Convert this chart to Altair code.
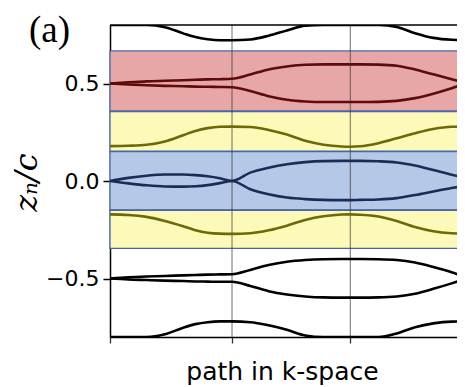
import altair as alt
import pandas as pd

# path coordinate along k-space (segment ends at kpoints)
k = [0.0, 0.15, 0.3, 0.45, 0.6, 0.7, 0.8, 0.9, 1.0, 1.15, 1.3, 1.45, 1.6, 1.75,
     1.9, 1.97, 2.05, 2.2, 2.35, 2.5, 2.65, 2.8, 2.91]
kpoints = [0.0, 1.0, 1.97]
grid_k = [1.0, 1.97]

top_black = [0.800, 0.800, 0.800, 0.789, 0.757, 0.738, 0.727, 0.722, 0.722, 0.726, 0.745, 0.772,
             0.797, 0.800, 0.800, 0.800, 0.800, 0.800, 0.790, 0.758, 0.734, 0.724, 0.722]
red_up = [0.500, 0.506, 0.511, 0.514, 0.517, 0.519, 0.521, 0.522, 0.524, 0.546, 0.572, 0.587,
          0.596, 0.598, 0.598, 0.598, 0.598, 0.597, 0.591, 0.572, 0.547, 0.522, 0.503]
red_lo = [0.500, 0.495, 0.491, 0.488, 0.486, 0.484, 0.483, 0.482, 0.481, 0.461, 0.435, 0.417,
          0.408, 0.405, 0.405, 0.405, 0.405, 0.406, 0.411, 0.425, 0.448, 0.476, 0.500]
yel_up = [0.179, 0.181, 0.186, 0.203, 0.235, 0.257, 0.271, 0.278, 0.279, 0.277, 0.262, 0.238,
          0.206, 0.186, 0.177, 0.176, 0.178, 0.194, 0.219, 0.245, 0.267, 0.278, 0.279]
blue_up = [0.000, 0.016, 0.027, 0.033, 0.033, 0.030, 0.024, 0.014, 0.000, 0.043, 0.068, 0.086,
           0.097, 0.102, 0.103, 0.103, 0.103, 0.101, 0.095, 0.079, 0.056, 0.032, 0.016]
blue_lo = [0.000, -0.012, -0.022, -0.028, -0.029, -0.027, -0.021, -0.011, 0.000, -0.042, -0.068,
           -0.085, -0.093, -0.097, -0.098, -0.098, -0.097, -0.095, -0.088, -0.072, -0.054, -0.036, -0.024]
yel_lo = [-0.171, -0.174, -0.184, -0.205, -0.232, -0.252, -0.265, -0.270, -0.271, -0.268, -0.253,
          -0.229, -0.200, -0.181, -0.172, -0.171, -0.173, -0.182, -0.205, -0.236, -0.258, -0.268, -0.270]
blk_up = [-0.500, -0.494, -0.490, -0.487, -0.484, -0.482, -0.480, -0.479, -0.478, -0.456, -0.431,
          -0.414, -0.405, -0.401, -0.400, -0.400, -0.400, -0.401, -0.405, -0.418, -0.441, -0.468, -0.492]
blk_lo = [-0.500, -0.505, -0.508, -0.511, -0.513, -0.515, -0.516, -0.517, -0.517, -0.538, -0.565,
          -0.582, -0.592, -0.597, -0.598, -0.598, -0.598, -0.597, -0.592, -0.578, -0.553, -0.525, -0.503]
bottom_black = [-0.800, -0.800, -0.800, -0.786, -0.752, -0.734, -0.724, -0.720, -0.720, -0.724, -0.740,
                -0.763, -0.792, -0.800, -0.800, -0.800, -0.800, -0.800, -0.782, -0.750, -0.730, -0.721, -0.720]

curve_names = ["top", "red_up", "red_lo", "yel_up", "blue_up", "blue_lo", "yel_lo",
               "blk_up", "blk_lo", "bottom"]
curve_groups = ["black", "red", "red", "yellow", "blue", "blue", "yellow", "black", "black", "black"]
curve_values = [top_black, red_up, red_lo, yel_up, blue_up, blue_lo, yel_lo, blk_up, blk_lo, bottom_black]

group_names = ["red", "yellow", "blue", "black"]
group_colors = ["#5e0b0b", "#6b6a08", "#1b2d57", "#000000"]

band_lo = [0.360, 0.153, -0.148, -0.345]
band_hi = [0.667, 0.356, 0.151, -0.150]
band_fill = ["#e8a7a7", "#fdf9b8", "#b5c8e8", "#fdf9b8"]

y_ticks = [-0.5, 0.0, 0.5]

rows = []
for name, grp, vals in zip(curve_names, curve_groups, curve_values):
    for kk, v in zip(k, vals):
        rows.append({"k": kk, "z": v, "curve": name, "group": grp})
lines_df = pd.DataFrame(rows)
bands_df = pd.DataFrame({"lo": band_lo, "hi": band_hi, "fill": band_fill})

xscale = alt.Scale(domain=[0, 2.844], nice=False, zero=False)
yscale = alt.Scale(domain=[-0.8, 0.8], nice=False, zero=False)

xaxis = alt.Axis(values=kpoints, labels=False, grid=False, tickSize=6, tickColor="#333333",
                 tickWidth=1.3, domainColor="black", domainWidth=1.5,
                 title="path in k-space", titleFont="DejaVu Sans", titleFontSize=25,
                 titleFontWeight="normal", titleColor="black", titleX=172, titleY=42,
                 titleAlign="center", titleBaseline="alphabetic")
yaxis = alt.Axis(values=y_ticks, format=".1f", grid=False, tickSize=7, tickColor="black",
                 tickWidth=1.5, domainColor="black", domainWidth=1.5,
                 labelFont="DejaVu Sans", labelFontSize=22, labelColor="black", labelPadding=4,
                 title="zₙ/c", titleFont="DejaVu Serif", titleFontStyle="italic",
                 titleFontWeight="normal", titleFontSize=32, titleColor="black",
                 titleAngle=270, titleX=-84, titleY=157, titleAlign="center",
                 titleBaseline="middle")

base_axes = alt.Chart(lines_df).mark_line(opacity=0).encode(
    x=alt.X("k:Q", scale=xscale, axis=xaxis),
    y=alt.Y("z:Q", scale=yscale, axis=yaxis),
    detail="curve:N",
)

bands = alt.Chart(bands_df).mark_rect(stroke="#4767a8", strokeWidth=1.3).encode(
    x=alt.datum(0.0, scale=xscale),
    x2=alt.datum(3.05),
    y=alt.Y("lo:Q", scale=yscale),
    y2="hi:Q",
    fill=alt.Fill("fill:N", scale=None),
)

grid = alt.Chart(pd.DataFrame({"k": grid_k})).mark_rule(
    color="#333333", opacity=0.55, strokeWidth=1.3
).encode(x=alt.X("k:Q", scale=xscale))

top_spine = alt.Chart(pd.DataFrame({"z": [0.8]})).mark_rule(
    color="black", strokeWidth=1.5
).encode(y=alt.Y("z:Q", scale=yscale))

curves = alt.Chart(lines_df).mark_line(interpolate="monotone", strokeWidth=2.6, clip=True).encode(
    x=alt.X("k:Q", scale=xscale),
    y=alt.Y("z:Q", scale=yscale),
    detail="curve:N",
    color=alt.Color("group:N", scale=alt.Scale(domain=group_names, range=group_colors), legend=None),
)

label = alt.Chart(pd.DataFrame({"t": ["(a)"]})).mark_text(
    align="left", baseline="alphabetic", font="Liberation Serif", fontSize=37, color="black"
).encode(text="t:N", x=alt.value(-81), y=alt.value(17))

chart = alt.layer(base_axes, bands, grid, top_spine, curves, label).properties(
    width=347, height=312,
    autosize=alt.AutoSizeParams(type="none"),
    padding={"left": 102, "top": 17, "right": 0, "bottom": 50},
    background="white",
).configure_view(stroke=None)

chart.save("out.html", embed_options={"renderer": "svg", "actions": False})
